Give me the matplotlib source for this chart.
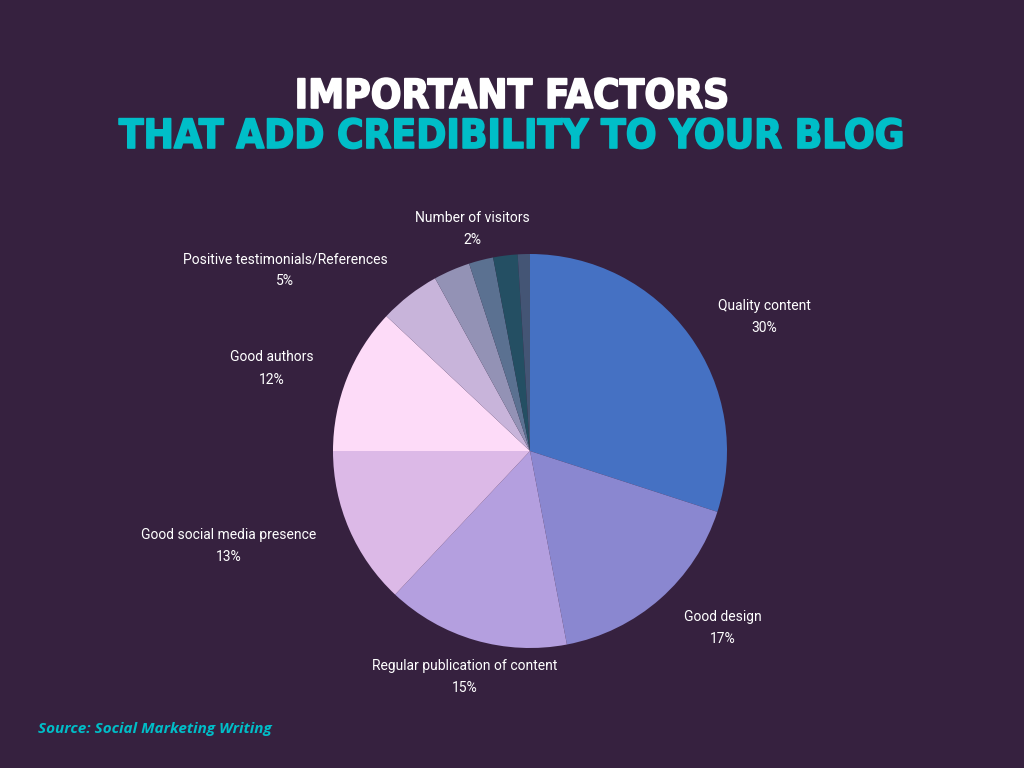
import numpy as np
import matplotlib
matplotlib.use("Agg")
import matplotlib.pyplot as plt
import matplotlib.patheffects as pe

# slices, clockwise from 12 o'clock
labels = ["Quality content", "Good design", "Regular publication of content",
          "Good social media presence", "Good authors",
          "Positive testimonials/References", "", "Number of visitors", "", ""]
values = [30, 17, 15, 13, 12, 5, 3, 2, 2, 1]
colors = ["#4571c3", "#8a87d0", "#b49fdf", "#dcb9e7", "#fddbf8",
          "#c8b4da", "#9392b5", "#5b7191", "#244f63", "#445575"]
# horizontal alignment of each label
aligns = ["left", "left", "center", "right", "right", "right", "", "center", "", ""]

bg = "#36213f"
cyan = "#00bec8"

fig = plt.figure(figsize=(10.24, 7.68), dpi=100, facecolor=bg)

cx, cy, r = 530, 451, 197
ax = fig.add_axes([(cx - r) / 1024, (768 - cy - r) / 768, 2 * r / 1024, 2 * r / 768])
ax.set_facecolor(bg)
wedges, _ = ax.pie(values, colors=colors, startangle=90, counterclock=False,
                   radius=1, wedgeprops=dict(linewidth=0))
ax.set_xlim(-1, 1)
ax.set_ylim(-1, 1)
ax.axis("off")

for w, lab, val, ha in zip(wedges, labels, values, aligns):
    if not lab:
        continue
    ang = np.deg2rad((w.theta1 + w.theta2) / 2)
    d = 1.18
    # nudge labels down a few pixels
    ax.text(d * np.cos(ang), d * np.sin(ang) - 0.015, f"{lab}\n{val}%", ha=ha,
            va="center", multialignment="center", color="white", fontsize=10,
            family="Roboto", linespacing=1.75, clip_on=False)

t1 = fig.text(0.5, 1 - 97 / 768, "IMPORTANT FACTORS", ha="center", va="center",
              color="white", fontsize=29, fontweight="heavy", family="DejaVu Sans",
              fontstretch="condensed")
t2 = fig.text(0.5, 1 - 137 / 768, "THAT ADD CREDIBILITY TO YOUR BLOG", ha="center",
              va="center", color=cyan, fontsize=29, fontweight="heavy",
              family="DejaVu Sans", fontstretch="condensed")
t1.set_path_effects([pe.withStroke(linewidth=1.2, foreground="white")])
t2.set_path_effects([pe.withStroke(linewidth=1.2, foreground=cyan)])
fig.text(38 / 1024, 1 - 729 / 768, "Source: Social Marketing Writing", ha="left",
         va="center", color=cyan, fontsize=11, fontweight="bold",
         style="italic", family="Open Sans")

fig.savefig("out.png", dpi=100, facecolor=bg)
